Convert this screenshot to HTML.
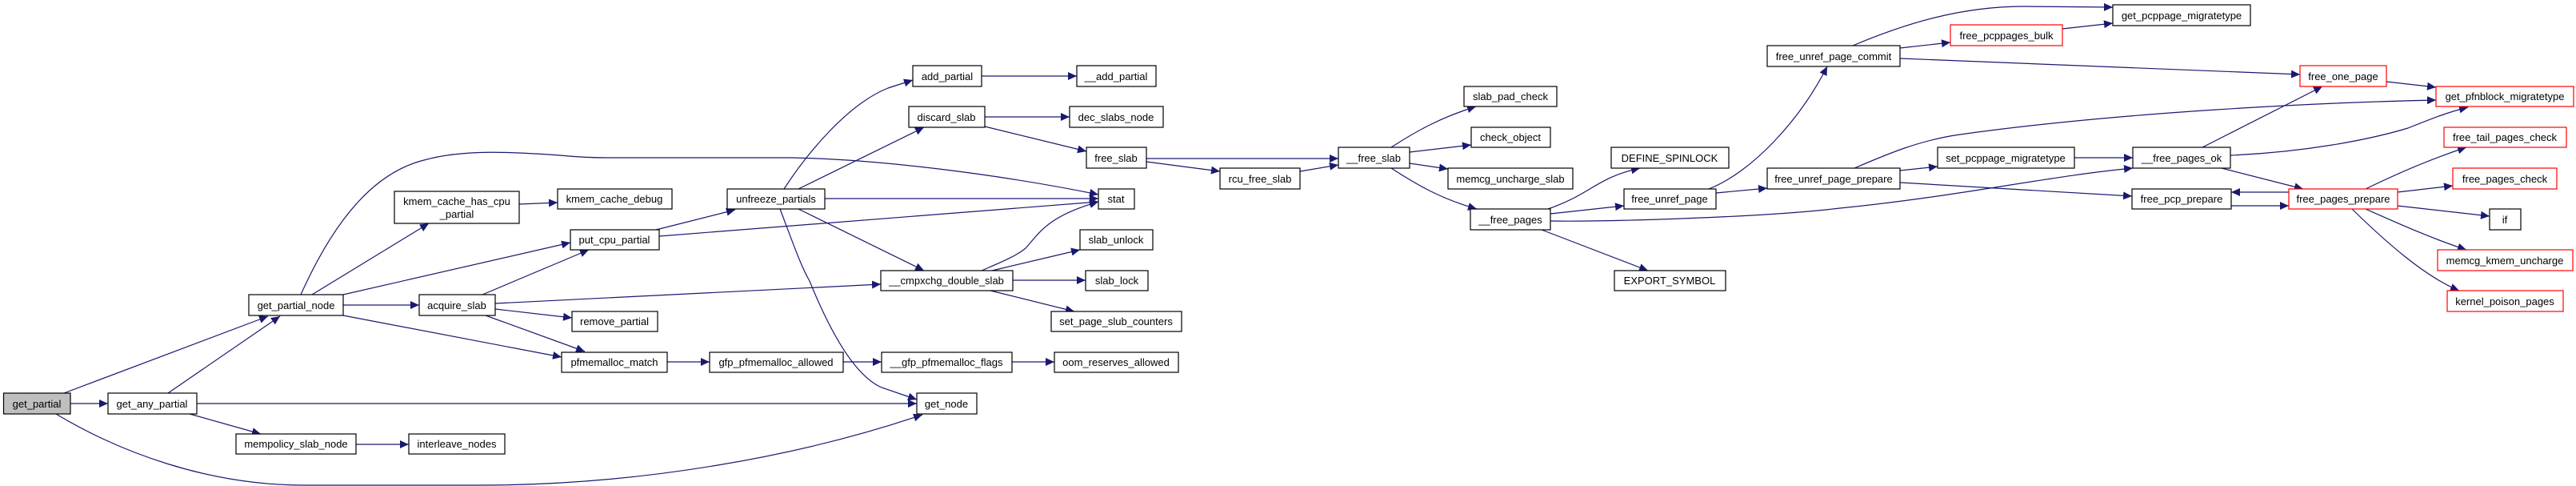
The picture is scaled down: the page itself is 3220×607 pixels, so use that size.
<!DOCTYPE html>
<html><head><meta charset="utf-8"><style>
html,body{margin:0;padding:0;background:#fff;}
svg{display:block;}
text{font-family:"Liberation Sans",sans-serif;font-size:13px;fill:#000;}
</style></head><body>
<svg width="3220" height="607" viewBox="0 0 3220 607" xmlns="http://www.w3.org/2000/svg">
<defs>
<marker id="a" markerUnits="userSpaceOnUse" markerWidth="12" markerHeight="10" refX="11" refY="5" orient="auto">
<path d="M0,0 L11,5 L0,10 Z" fill="#191970"/>
</marker>
</defs>
<g fill="none" stroke="#191970" stroke-width="1.2" marker-end="url(#a)">
<path d="M80,491 L335,395"/>
<path d="M88,504 L135,504"/>
<path d="M70,517 C150,565 260,606 380,606 L600,606 C800,606 1000,570 1153,518"/>
<path d="M210,491 L350,395"/>
<path d="M246,504 L1146,504"/>
<path d="M237,517 L326,542"/>
<path d="M445,555 L511,555"/>
<path d="M376,368 C420,270 470,215 530,200 C580,186 640,190 700,194 C720,196 740,197 760,197 L990,197 C1100,199 1250,218 1373,243"/>
<path d="M390,368 L536,279"/>
<path d="M429,368 L713,303"/>
<path d="M429,381 L524,381"/>
<path d="M429,394 L702,446"/>
<path d="M649,255 L697,253"/>
<path d="M603,368 L736,312"/>
<path d="M619,379 L1101,355"/>
<path d="M619,386 L715,397"/>
<path d="M607,394 L731,439"/>
<path d="M820,287 L919,262"/>
<path d="M824,295 L1373,252"/>
<path d="M980,236 C1010,190 1060,130 1110,110 L1141,100"/>
<path d="M998,236 L1155,159"/>
<path d="M1031,248 L1373,248"/>
<path d="M998,261 L1155,338"/>
<path d="M975,261 C990,300 1000,330 1012,351 C1040,420 1070,470 1102,484 L1146,499"/>
<path d="M1227,95 L1346,95"/>
<path d="M1231,146 L1337,146"/>
<path d="M1231,158 L1358,189"/>
<path d="M1227,338 C1250,328 1270,320 1282,310 C1300,290 1310,270 1373,252"/>
<path d="M1240,338 L1350,312"/>
<path d="M1266,350 L1357,350"/>
<path d="M1238,363 L1343,389"/>
<path d="M834,452 L887,452"/>
<path d="M1054,452 L1102,452"/>
<path d="M1265,452 L1318,452"/>
<path d="M1433,198 L1673,198"/>
<path d="M1433,202 L1525,214"/>
<path d="M1625,214 L1673,206"/>
<path d="M1739,184 C1770,164 1800,147 1845,133"/>
<path d="M1762,190 L1839,181"/>
<path d="M1762,204 L1810,211"/>
<path d="M1739,210 C1770,230 1800,248 1846,261"/>
<path d="M1935,261 C1990,242 1995,222 2050,210"/>
<path d="M1938,267 L2030,257"/>
<path d="M1938,276 C2000,277 2200,272 2300,260 C2450,245 2560,220 2666,210"/>
<path d="M1927,287 L2060,338"/>
<path d="M2136,236 C2190,215 2250,150 2284,83"/>
<path d="M2145,241 L2209,235"/>
<path d="M2318,210 C2360,192 2400,175 2450,168 C2650,140 2900,128 3045,125"/>
<path d="M2375,213 L2422,208"/>
<path d="M2375,228 L2665,245"/>
<path d="M2316,57 C2380,30 2450,8 2530,8 L2641,9"/>
<path d="M2375,60 L2438,53"/>
<path d="M2375,73 L2875,93"/>
<path d="M2578,36 L2641,29"/>
<path d="M2593,197 L2666,197"/>
<path d="M2753,184 L2903,108"/>
<path d="M2788,194 C2880,190 2960,175 3010,160 C3040,148 3060,140 3085,134"/>
<path d="M2777,210 L2879,236"/>
<path d="M2789,257 L2861,257"/>
<path d="M2861,240 L2789,240"/>
<path d="M2983,102 L3045,109"/>
<path d="M2957,236 C3000,215 3040,198 3083,184"/>
<path d="M2997,240 L3066,232"/>
<path d="M2997,257 L3112,270"/>
<path d="M2957,261 C3000,280 3040,298 3083,312"/>
<path d="M2940,261 C2980,300 3030,345 3074,363"/>
</g>
<g stroke-width="1.2">
<!-- nodes: rect + text -->
<rect x="4.5" y="491" width="83.5" height="26" fill="#bfbfbf" stroke="#000"/><text x="46" y="509" text-anchor="middle">get_partial</text>
<rect x="135" y="491" width="111" height="26" fill="#fff" stroke="#000"/><text x="190" y="509" text-anchor="middle">get_any_partial</text>
<rect x="311" y="368" width="118" height="26" fill="#fff" stroke="#000"/><text x="370" y="386" text-anchor="middle">get_partial_node</text>
<rect x="493" y="239" width="156" height="40" fill="#fff" stroke="#000"/><text x="571" y="256" text-anchor="middle">kmem_cache_has_cpu</text><text x="571" y="272" text-anchor="middle">_partial</text>
<rect x="524" y="368" width="95" height="26" fill="#fff" stroke="#000"/><text x="571" y="386" text-anchor="middle">acquire_slab</text>
<rect x="295" y="542" width="150" height="25" fill="#fff" stroke="#000"/><text x="370" y="559" text-anchor="middle">mempolicy_slab_node</text>
<rect x="511" y="542" width="120" height="25" fill="#fff" stroke="#000"/><text x="571" y="559" text-anchor="middle">interleave_nodes</text>
<rect x="697" y="236" width="143" height="25" fill="#fff" stroke="#000"/><text x="768" y="253" text-anchor="middle">kmem_cache_debug</text>
<rect x="909" y="236" width="122" height="25" fill="#fff" stroke="#000"/><text x="970" y="253" text-anchor="middle">unfreeze_partials</text>
<rect x="713" y="287" width="111" height="25" fill="#fff" stroke="#000"/><text x="768" y="304" text-anchor="middle">put_cpu_partial</text>
<rect x="1141" y="82" width="86" height="26" fill="#fff" stroke="#000"/><text x="1184" y="100" text-anchor="middle">add_partial</text>
<rect x="1136" y="133" width="95" height="26" fill="#fff" stroke="#000"/><text x="1183" y="151" text-anchor="middle">discard_slab</text>
<rect x="1346" y="82" width="99" height="26" fill="#fff" stroke="#000"/><text x="1395" y="100" text-anchor="middle">__add_partial</text>
<rect x="1337" y="133" width="117" height="26" fill="#fff" stroke="#000"/><text x="1395" y="151" text-anchor="middle">dec_slabs_node</text>
<rect x="1358" y="184" width="75" height="26" fill="#fff" stroke="#000"/><text x="1395" y="202" text-anchor="middle">free_slab</text>
<rect x="1373" y="236" width="45" height="25" fill="#fff" stroke="#000"/><text x="1395" y="253" text-anchor="middle">stat</text>
<rect x="1350" y="287" width="91" height="25" fill="#fff" stroke="#000"/><text x="1395" y="304" text-anchor="middle">slab_unlock</text>
<rect x="1101" y="338" width="165" height="25" fill="#fff" stroke="#000"/><text x="1183" y="355" text-anchor="middle">__cmpxchg_double_slab</text>
<rect x="1357" y="338" width="78" height="25" fill="#fff" stroke="#000"/><text x="1396" y="355" text-anchor="middle">slab_lock</text>
<rect x="715" y="389" width="107" height="25" fill="#fff" stroke="#000"/><text x="768" y="406" text-anchor="middle">remove_partial</text>
<rect x="1314" y="389" width="163" height="25" fill="#fff" stroke="#000"/><text x="1395" y="406" text-anchor="middle">set_page_slub_counters</text>
<rect x="702" y="440" width="132" height="25" fill="#fff" stroke="#000"/><text x="768" y="457" text-anchor="middle">pfmemalloc_match</text>
<rect x="887" y="440" width="167" height="25" fill="#fff" stroke="#000"/><text x="970" y="457" text-anchor="middle">gfp_pfmemalloc_allowed</text>
<rect x="1102" y="440" width="163" height="25" fill="#fff" stroke="#000"/><text x="1183" y="457" text-anchor="middle">__gfp_pfmemalloc_flags</text>
<rect x="1318" y="440" width="155" height="25" fill="#fff" stroke="#000"/><text x="1395" y="457" text-anchor="middle">oom_reserves_allowed</text>
<rect x="1146" y="491" width="75" height="26" fill="#fff" stroke="#000"/><text x="1183" y="509" text-anchor="middle">get_node</text>
<rect x="1525" y="210" width="100" height="26" fill="#fff" stroke="#000"/><text x="1575" y="228" text-anchor="middle">rcu_free_slab</text>
<rect x="1673" y="184" width="89" height="26" fill="#fff" stroke="#000"/><text x="1717" y="202" text-anchor="middle">__free_slab</text>
<rect x="1830" y="108" width="116" height="25" fill="#fff" stroke="#000"/><text x="1888" y="125" text-anchor="middle">slab_pad_check</text>
<rect x="1839" y="159" width="99" height="25" fill="#fff" stroke="#000"/><text x="1888" y="176" text-anchor="middle">check_object</text>
<rect x="1810" y="210" width="156" height="26" fill="#fff" stroke="#000"/><text x="1888" y="228" text-anchor="middle">memcg_uncharge_slab</text>
<rect x="1838" y="261" width="100" height="26" fill="#fff" stroke="#000"/><text x="1888" y="279" text-anchor="middle">__free_pages</text>
<rect x="2014" y="184" width="147" height="26" fill="#fff" stroke="#000"/><text x="2087" y="202" text-anchor="middle">DEFINE_SPINLOCK</text>
<rect x="2030" y="236" width="115" height="25" fill="#fff" stroke="#000"/><text x="2087" y="253" text-anchor="middle">free_unref_page</text>
<rect x="2018" y="338" width="139" height="25" fill="#fff" stroke="#000"/><text x="2087" y="355" text-anchor="middle">EXPORT_SYMBOL</text>
<rect x="2209" y="57" width="166" height="26" fill="#fff" stroke="#000"/><text x="2292" y="75" text-anchor="middle">free_unref_page_commit</text>
<rect x="2438" y="31" width="140" height="26" fill="#fff" stroke="#f00"/><text x="2508" y="49" text-anchor="middle">free_pcppages_bulk</text>
<rect x="2641" y="6" width="172" height="26" fill="#fff" stroke="#000"/><text x="2727" y="24" text-anchor="middle">get_pcppage_migratetype</text>
<rect x="2209" y="210" width="166" height="26" fill="#fff" stroke="#000"/><text x="2292" y="228" text-anchor="middle">free_unref_page_prepare</text>
<rect x="2422" y="184" width="171" height="26" fill="#fff" stroke="#000"/><text x="2507" y="202" text-anchor="middle">set_pcppage_migratetype</text>
<rect x="2666" y="184" width="122" height="26" fill="#fff" stroke="#000"/><text x="2727" y="202" text-anchor="middle">__free_pages_ok</text>
<rect x="2665" y="236" width="124" height="25" fill="#fff" stroke="#000"/><text x="2727" y="253" text-anchor="middle">free_pcp_prepare</text>
<rect x="2875" y="82" width="108" height="26" fill="#fff" stroke="#f00"/><text x="2929" y="100" text-anchor="middle">free_one_page</text>
<rect x="3045" y="108" width="172" height="25" fill="#fff" stroke="#f00"/><text x="3131" y="125" text-anchor="middle">get_pfnblock_migratetype</text>
<rect x="3055" y="159" width="153" height="25" fill="#fff" stroke="#f00"/><text x="3131" y="176" text-anchor="middle">free_tail_pages_check</text>
<rect x="3066" y="210" width="130" height="26" fill="#fff" stroke="#f00"/><text x="3131" y="228" text-anchor="middle">free_pages_check</text>
<rect x="2861" y="236" width="136" height="25" fill="#fff" stroke="#f00"/><text x="2929" y="253" text-anchor="middle">free_pages_prepare</text>
<rect x="3112" y="261" width="39" height="26" fill="#fff" stroke="#000"/><text x="3131" y="279" text-anchor="middle">if</text>
<rect x="3047" y="312" width="169" height="26" fill="#fff" stroke="#f00"/><text x="3131" y="330" text-anchor="middle">memcg_kmem_uncharge</text>
<rect x="3059" y="363" width="145" height="26" fill="#fff" stroke="#f00"/><text x="3131" y="381" text-anchor="middle">kernel_poison_pages</text>
</g>
</svg>
</body></html>
